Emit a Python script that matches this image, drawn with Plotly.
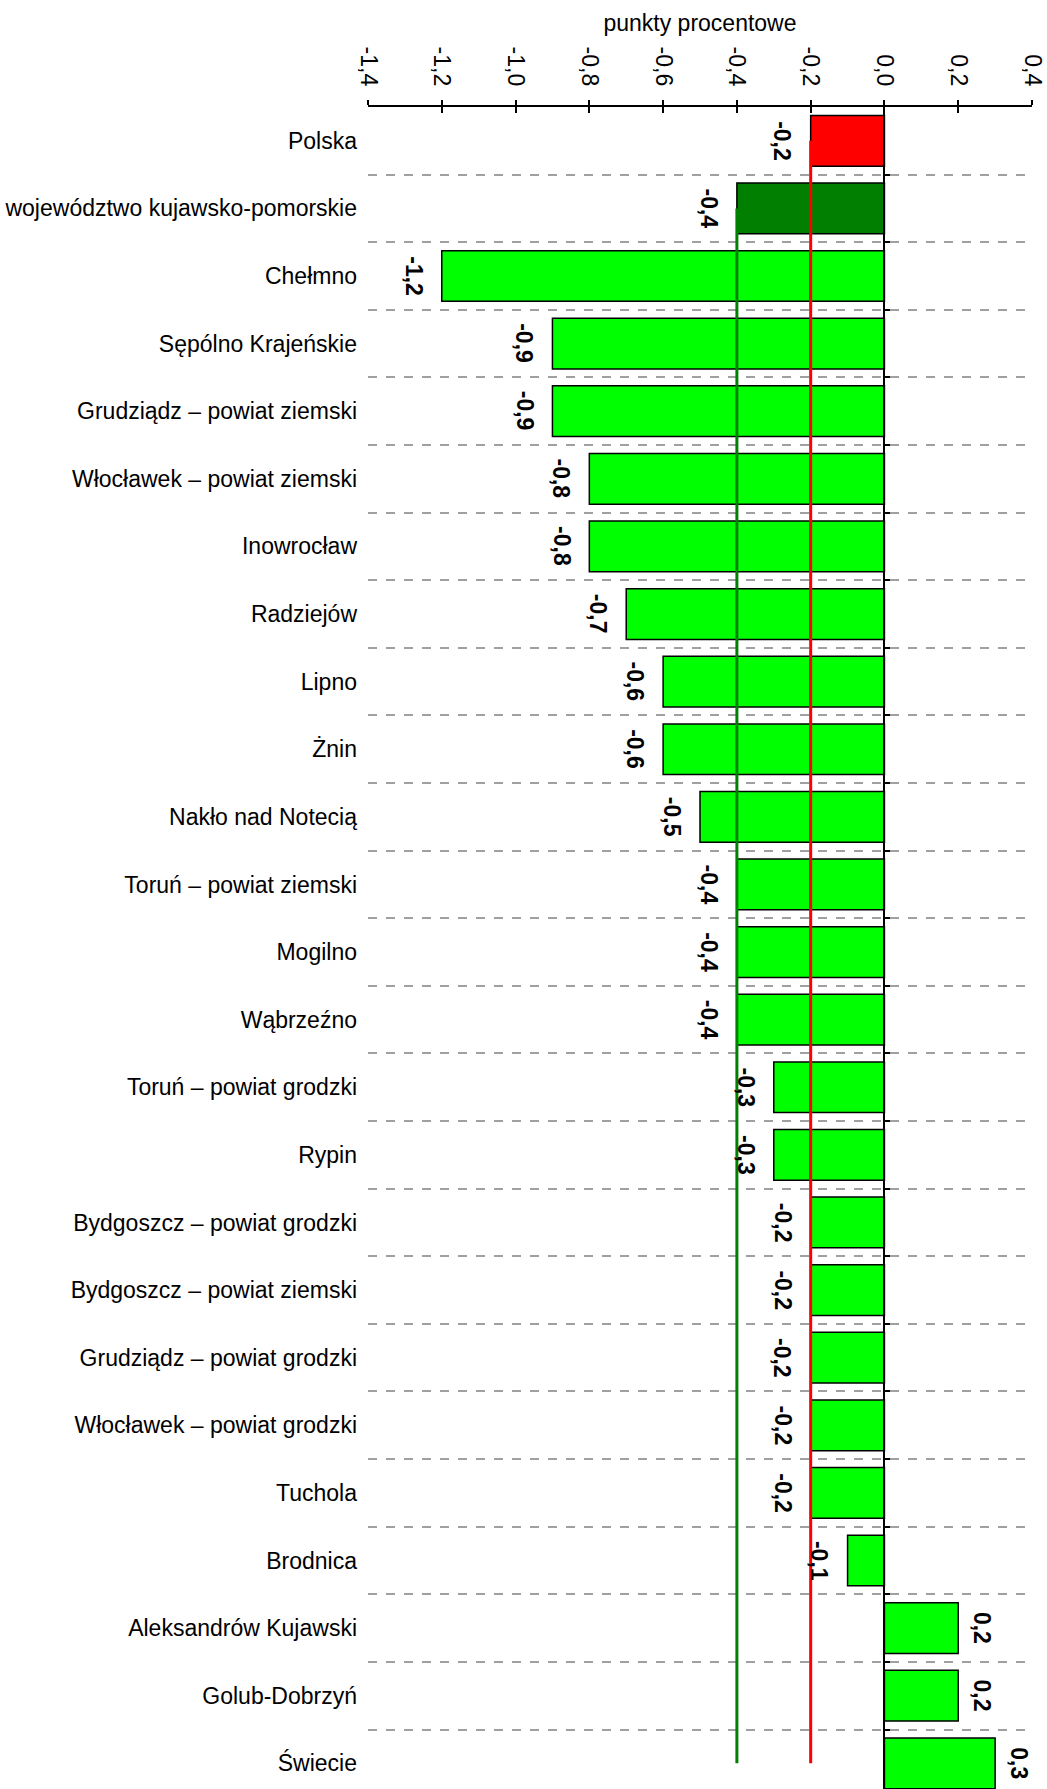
import plotly.graph_objects as go

categories = [
    "Polska",
    "województwo kujawsko-pomorskie",
    "Chełmno",
    "Sępólno Krajeńskie",
    "Grudziądz – powiat ziemski",
    "Włocławek – powiat ziemski",
    "Inowrocław",
    "Radziejów",
    "Lipno",
    "Żnin",
    "Nakło nad Notecią",
    "Toruń – powiat ziemski",
    "Mogilno",
    "Wąbrzeźno",
    "Toruń – powiat grodzki",
    "Rypin",
    "Bydgoszcz – powiat grodzki",
    "Bydgoszcz – powiat ziemski",
    "Grudziądz – powiat grodzki",
    "Włocławek – powiat grodzki",
    "Tuchola",
    "Brodnica",
    "Aleksandrów Kujawski",
    "Golub-Dobrzyń",
    "Świecie",
]
values = [-0.2, -0.4, -1.2, -0.9, -0.9, -0.8, -0.8, -0.7, -0.6, -0.6, -0.5,
          -0.4, -0.4, -0.4, -0.3, -0.3, -0.2, -0.2, -0.2, -0.2, -0.2, -0.1,
          0.2, 0.2, 0.3]
tick_values = [-1.4, -1.2, -1.0, -0.8, -0.6, -0.4, -0.2, 0.0, 0.2, 0.4]
tick_labels = ["-1,4", "-1,2", "-1,0", "-0,8", "-0,6", "-0,4", "-0,2", "0,0", "0,2", "0,4"]
axis_title = "punkty procentowe"

FONT = "Liberation Sans, Arial, sans-serif"
n = len(categories)
idx = list(range(n))

colors = ["#FF0000", "#007F00"] + ["#00FF00"] * (n - 2)

fig = go.Figure()

fig.add_trace(go.Bar(
    x=values, y=idx, orientation="h",
    marker=dict(color=colors, line=dict(color="black", width=1.5)),
    width=0.75, showlegend=False, hoverinfo="skip",
))

# reference lines: voivodeship value and country value
fig.add_trace(go.Scatter(
    x=[values[1]] * (n - 1), y=idx[1:], mode="lines",
    line=dict(color="#008000", width=3), showlegend=False, hoverinfo="skip",
))
fig.add_trace(go.Scatter(
    x=[values[0]] * n, y=idx, mode="lines",
    line=dict(color="#FF0000", width=3), showlegend=False, hoverinfo="skip",
))

# dummy traces for overlay axes
fig.add_trace(go.Scatter(x=[None], y=[None], xaxis="x2", yaxis="y",
                         showlegend=False, hoverinfo="skip"))
fig.add_trace(go.Scatter(x=[None], y=[None], xaxis="x", yaxis="y2",
                         showlegend=False, hoverinfo="skip"))

annotations = []
for i, v in enumerate(values):
    txt = f"{v:.1f}".replace(".", ",")
    annotations.append(dict(
        x=v, y=i, xref="x", yref="y", text=txt, showarrow=False,
        textangle=90,
        xanchor="right" if v < 0 else "left",
        yanchor="middle",
        xshift=-13 if v < 0 else 9,
        font=dict(family=FONT, size=23, color="black", weight="bold"),
    ))

row_top = -0.5
row_bottom = 24.38
xmin, xmax = -1.4, 0.4

fig.update_layout(
    width=1047, height=1789,
    margin=dict(l=368, r=15, t=107, b=0),
    paper_bgcolor="white", plot_bgcolor="white",
    font=dict(family=FONT, size=23, color="black"),
    annotations=annotations,
    xaxis=dict(
        range=[xmin, xmax], side="top",
        tickvals=tick_values, ticktext=tick_labels, tickangle=90,
        ticks="outside", ticklen=5, tickwidth=1.5, tickcolor="black",
        showline=True, linecolor="black", linewidth=1.5,
        showgrid=False, zeroline=False,
        tickfont=dict(family=FONT, size=23, color="black"),
        ticklabelstandoff=6,
        title=dict(text=axis_title, standoff=9,
                   font=dict(family=FONT, size=23, color="black")),
    ),
    xaxis2=dict(
        range=[xmin, xmax], overlaying="x", side="top", matches="x",
        tickvals=tick_values, ticks="inside", ticklen=6, tickwidth=1.5,
        tickcolor="black", showticklabels=False, showline=False,
        showgrid=False, zeroline=False,
    ),
    yaxis=dict(
        range=[row_bottom, row_top],
        tickvals=idx, ticktext=categories,
        ticks="", showline=False, showgrid=False, zeroline=False,
        tickfont=dict(family=FONT, size=23, color="black"),
        ticklabelstandoff=10,
    ),
    yaxis2=dict(
        range=[row_bottom, row_top], overlaying="y", matches="y",
        anchor="free", position=(0 - xmin) / (xmax - xmin), side="right",
        tickvals=[i + 0.5 for i in idx[:-1]],
        ticks="outside", ticklen=5, tickwidth=1.5, tickcolor="black",
        showticklabels=False,
        showline=True, linecolor="black", linewidth=1.5,
        showgrid=True, gridcolor="#A0A0A0", gridwidth=1.5, griddash="dash",
        zeroline=False,
    ),
)

fig.write_html("out.html", config={"displayModeBar": False},
               post_script="document.body.style.margin='0';")
